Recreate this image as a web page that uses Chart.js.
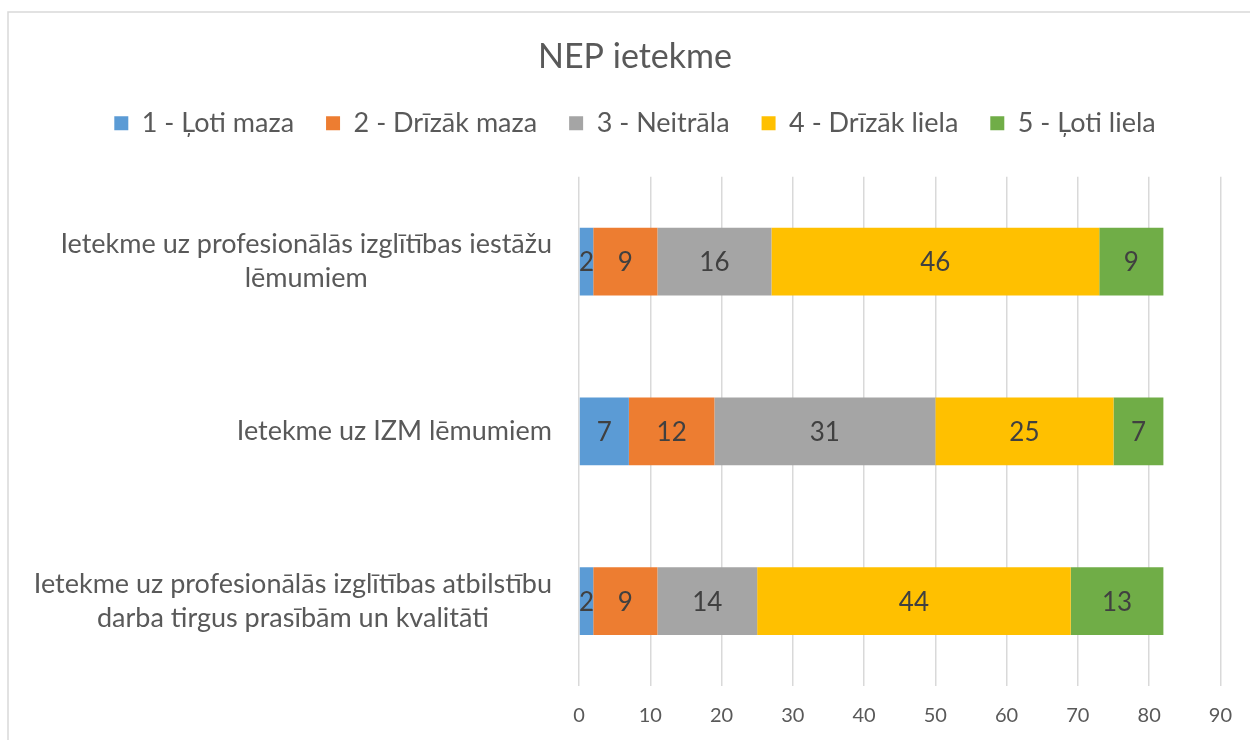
<!DOCTYPE html>
<html>
<head>
<meta charset="utf-8">
<script src="https://cdn.jsdelivr.net/npm/chart.js@4.4.0/dist/chart.umd.min.js"></script>
<style>
body { margin: 0; background: #fff; }
</style>
</head>
<body>
<canvas id="nepChart" width="1250" height="740"></canvas>
<script>
// categories (y axis), multi-line like in the original
var categories = [
    ['Ietekme uz profesionālās izglītības iestāžu', 'lēmumiem'],
    ['Ietekme uz IZM lēmumiem'],
    ['Ietekme uz profesionālās izglītības atbilstību', 'darba tirgus prasībām un kvalitāti']
];
var seriesNames = ['1 - Ļoti maza', '2 - Drīzāk maza', '3 - Neitrāla', '4 - Drīzāk liela', '5 - Ļoti liela'];
var veryLow = [2, 7, 2];
var ratherLow = [9, 12, 9];
var neutral = [16, 31, 14];
var ratherHigh = [46, 25, 44];
var veryHigh = [9, 7, 13];
var xMin = 0;
var xMax = 90;
var xStep = 10;

var colors = ['#5b9bd5', '#ed7d31', '#a5a5a5', '#ffc000', '#70ad47'];
var fontFamily = 'Lato, "Open Sans", sans-serif';
var textGray = '#595959';

// light frame round the chart, like the excel chart box
const chartBorder = {
    id: 'chartBorder',
    beforeDraw(chart) {
        const ctx = chart.ctx;
        ctx.save();
        ctx.strokeStyle = '#d9d9d9';
        ctx.lineWidth = 1.5;
        ctx.strokeRect(8, 12, 1400, 1000);
        ctx.restore();
    }
};

// extra room between legend and plot area
const legendSpacer = {
    id: 'legendSpacer',
    beforeInit(chart) {
        const fit = chart.legend.fit;
        chart.legend.fit = function () {
            fit.bind(chart.legend)();
            this.height += 30;
        };
    }
};

// numbers in the middle of each bar segment
const barValues = {
    id: 'barValues',
    afterDatasetsDraw(chart) {
        const ctx = chart.ctx;
        ctx.save();
        ctx.font = '26px ' + fontFamily;
        ctx.fillStyle = '#404040';
        ctx.textAlign = 'center';
        ctx.textBaseline = 'middle';
        chart.data.datasets.forEach((ds, i) => {
            const meta = chart.getDatasetMeta(i);
            meta.data.forEach((bar, j) => {
                ctx.fillText(ds.data[j], (bar.x + bar.base) / 2, bar.y + 1);
            });
        });
        ctx.restore();
    }
};

// category labels: right aligned block, lines centred inside it
const categoryLabels = {
    id: 'categoryLabels',
    afterDraw(chart) {
        const ctx = chart.ctx;
        const yScale = chart.scales.y;
        const lineH = 34;
        const rightEdge = chart.chartArea.left - 27;
        ctx.save();
        ctx.font = '27px ' + fontFamily;
        ctx.fillStyle = textGray;
        ctx.textAlign = 'center';
        ctx.textBaseline = 'middle';
        categories.forEach((lines, i) => {
            const y = yScale.getPixelForTick(i);
            let maxW = 0;
            lines.forEach(l => { maxW = Math.max(maxW, ctx.measureText(l).width); });
            const cx = rightEdge - maxW / 2;
            lines.forEach((l, k) => {
                ctx.fillText(l, cx, y + (k - (lines.length - 1) / 2) * lineH);
            });
        });
        ctx.restore();
    }
};

var nepChart = new Chart(document.getElementById('nepChart'), {
    type: 'bar',
    data: {
        labels: categories,
        datasets: [
            { label: seriesNames[0], data: veryLow, backgroundColor: colors[0] },
            { label: seriesNames[1], data: ratherLow, backgroundColor: colors[1] },
            { label: seriesNames[2], data: neutral, backgroundColor: colors[2] },
            { label: seriesNames[3], data: ratherHigh, backgroundColor: colors[3] },
            { label: seriesNames[4], data: veryHigh, backgroundColor: colors[4] }
        ]
    },
    options: {
        indexAxis: 'y',
        responsive: false,
        animation: false,
        categoryPercentage: 1,
        barPercentage: 0.4,
        layout: {
            padding: { left: 20, right: 0, top: 0, bottom: 14 }
        },
        plugins: {
            title: {
                display: true,
                text: 'NEP ietekme',
                color: textGray,
                font: { family: fontFamily, size: 34, weight: 'normal' },
                padding: { top: 37, bottom: 0 }
            },
            legend: {
                position: 'top',
                labels: {
                    color: textGray,
                    font: { family: fontFamily, size: 27 },
                    boxWidth: 14,
                    boxHeight: 14,
                    padding: 32
                }
            },
            tooltip: { enabled: false }
        },
        scales: {
            x: {
                stacked: true,
                min: xMin,
                max: xMax,
                ticks: {
                    stepSize: xStep,
                    color: textGray,
                    font: { family: fontFamily, size: 20 },
                    padding: 18
                },
                grid: {
                    color: '#d9d9d9',
                    lineWidth: 1.5,
                    drawTicks: false
                },
                border: { display: false },
                afterFit(scale) {
                    scale.height = 40;
                }
            },
            y: {
                stacked: true,
                ticks: { display: false },
                grid: { display: false },
                border: { display: false },
                afterFit(scale) {
                    scale.width = 559;
                }
            }
        }
    },
    plugins: [chartBorder, legendSpacer, barValues, categoryLabels]
});
</script>
</body>
</html>
